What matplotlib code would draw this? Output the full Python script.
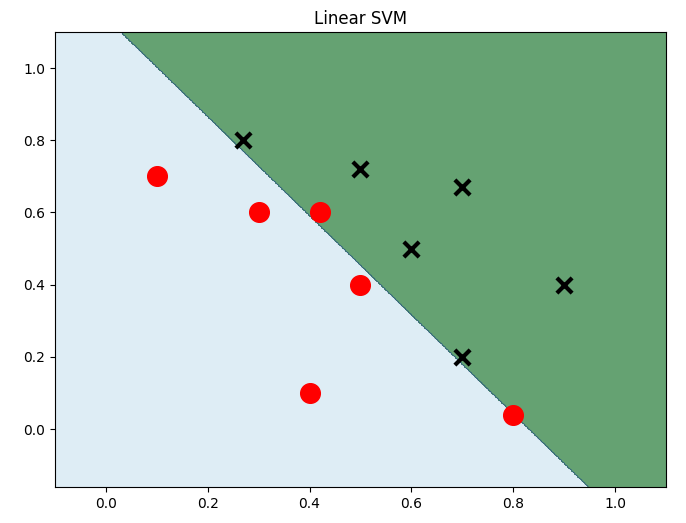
import numpy as np
import matplotlib.pyplot as plt

# class 0 points (red circles)
x0 = [0.1, 0.3, 0.42, 0.5, 0.4, 0.8]
y0 = [0.7, 0.6, 0.6, 0.4, 0.1, 0.04]
# class 1 points (black crosses)
x1 = [0.27, 0.5, 0.7, 0.6, 0.9, 0.7]
y1 = [0.8, 0.72, 0.67, 0.5, 0.4, 0.2]

# decision function w0*x + w1*y + b read from the boundary
w = [1.372, 1.0]
b = -1.14

x_min, x_max = -0.1, 1.1
y_min, y_max = -0.16, 1.1

xx, yy = np.meshgrid(np.linspace(x_min, x_max, 600), np.linspace(y_min, y_max, 600))
zz = (w[0] * xx + w[1] * yy + b > 0).astype(float)

fig = plt.figure(figsize=(6.86, 5.23), dpi=100)
ax = fig.add_axes([0.080, 0.069, 0.891, 0.870])
ax.contourf(xx, yy, zz, levels=[-0.5, 0.5, 1.5], colors=['#deedf5', '#65a272'])
ax.contour(xx, yy, zz, levels=[0.5], colors=['#2a5a80'], linewidths=0.6)
ax.scatter(x0, y0, c='red', s=200, marker='o', zorder=3)
ax.scatter(x1, y1, c='black', s=120, marker='x', linewidths=3, zorder=3)
ax.set_xlim(x_min, x_max)
ax.set_ylim(y_min, y_max)
ax.set_title('Linear SVM')

fig.savefig('out.png')
